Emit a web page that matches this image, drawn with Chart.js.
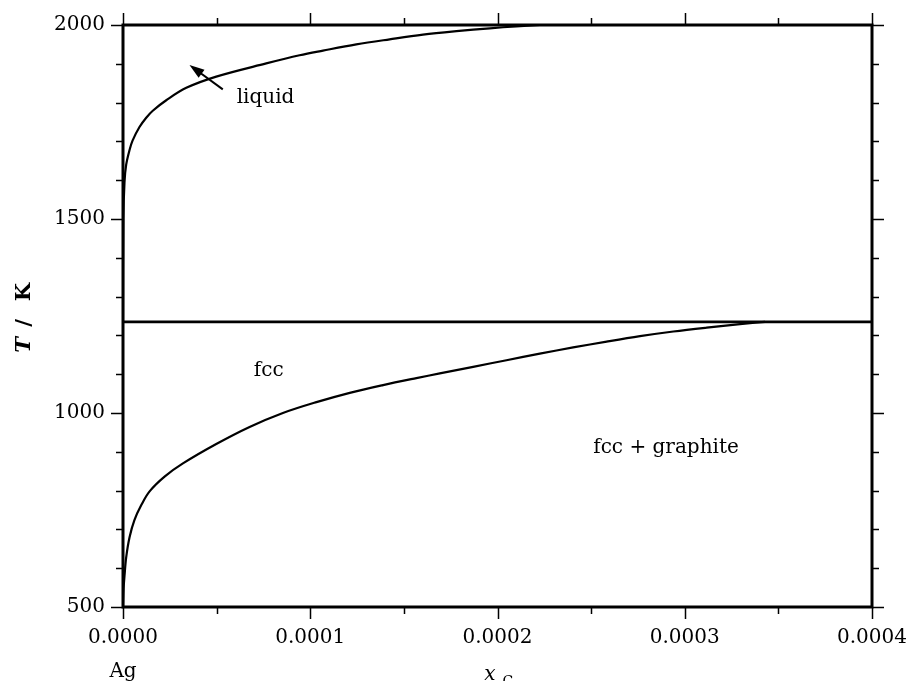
<!DOCTYPE html>
<html>
<head>
<meta charset="utf-8">
<script src="https://cdn.jsdelivr.net/npm/chart.js@4.4.0/dist/chart.umd.min.js"></script>
<style>
  html, body { margin: 0; padding: 0; background: #fff; }
  #wrap { width: 910px; height: 681px; }
</style>
</head>
<body>
<div id="wrap"><canvas id="chart" width="910" height="681"></canvas></div>
<script>
// mole fraction of C (x_C) and temperature (K)
const liquidX = [0, 0.0000002, 0.0000008, 0.0000017, 0.0000035, 0.0000051, 0.0000088, 0.0000124, 0.0000159,
  0.0000231, 0.0000338, 0.0000498, 0.0000765, 0.0000943, 0.0001068, 0.0001246, 0.0001424, 0.0001602,
  0.0001781, 0.0001959, 0.00021, 0.0002226];
const liquidT = [1235, 1500, 1595, 1640, 1678, 1702, 1737, 1761, 1779,
  1806, 1838, 1867, 1901, 1922, 1934, 1950, 1963, 1975,
  1984, 1991.5, 1996.5, 2000];

const fccX = [0, 0.0000003, 0.0000008, 0.0000017, 0.0000035, 0.0000061, 0.0000097, 0.0000142, 0.0000222,
  0.000032, 0.0000498, 0.0000676, 0.0000854, 0.0001033, 0.0001211, 0.0001389, 0.0001567, 0.0001692,
  0.000187, 0.0002048, 0.0002226, 0.0002404, 0.0002583, 0.0002761, 0.0002939, 0.0003117, 0.0003295, 0.0003429];
const fccT = [500, 548, 580, 628, 680, 724, 762, 798, 836,
  870, 920, 964, 1000, 1028, 1052, 1072, 1090, 1102,
  1119, 1136, 1153, 1169, 1184, 1198, 1210, 1220, 1229, 1235];

// Ag melting point, drawn across the whole range
const meltX = [0, 0.0004];
const meltT = [1235, 1235];

const xMin = 0, xMax = 0.0004, xStep = 0.00005;
const yMin = 500, yMax = 2000, yStep = 100;

const FONT = "'DejaVu Serif', serif";

const toPts = (xs, ys) => xs.map((x, i) => ({ x: x, y: ys[i] }));

// frame, tick marks on all 4 sides, labels and titles
const decor = {
  id: 'decor',
  afterDraw(chart) {
    const ctx = chart.ctx;
    const a = chart.chartArea;
    const xs = chart.scales.x, ys = chart.scales.y;
    ctx.save();
    ctx.strokeStyle = '#000';

    // ticks
    ctx.lineWidth = 1.5;
    ctx.beginPath();
    xs.ticks.forEach(t => {
      const px = Math.round(xs.getPixelForValue(t.value)) + 0.5;
      const major = Math.round(t.value / xStep) % 2 === 0;
      const len = major ? 12 : 7;
      ctx.moveTo(px, a.bottom); ctx.lineTo(px, a.bottom + len);
      ctx.moveTo(px, a.top); ctx.lineTo(px, a.top - len);
    });
    ys.ticks.forEach(t => {
      const py = Math.round(ys.getPixelForValue(t.value)) + 0.5;
      const major = Math.round(t.value) % 500 === 0;
      const len = major ? 12 : 7;
      ctx.moveTo(a.left, py); ctx.lineTo(a.left - len, py);
      ctx.moveTo(a.right, py); ctx.lineTo(a.right + len, py);
    });
    ctx.stroke();

    // frame
    ctx.lineWidth = 3;
    ctx.strokeRect(a.left, a.top, a.right - a.left, a.bottom - a.top);

    ctx.fillStyle = '#000';

    // arrow pointing at the liquidus
    const tx = xs.getPixelForValue(0.0000533), ty = ys.getPixelForValue(1834);
    const hx = xs.getPixelForValue(0.0000355), hy = ys.getPixelForValue(1897);
    const ang = Math.atan2(hy - ty, hx - tx);
    ctx.lineWidth = 2;
    ctx.beginPath();
    ctx.moveTo(tx, ty);
    ctx.lineTo(hx - 8 * Math.cos(ang), hy - 8 * Math.sin(ang));
    ctx.stroke();
    ctx.beginPath();
    ctx.moveTo(hx, hy);
    ctx.lineTo(hx - 15 * Math.cos(ang) + 5 * Math.sin(ang), hy - 15 * Math.sin(ang) - 5 * Math.cos(ang));
    ctx.lineTo(hx - 15 * Math.cos(ang) - 5 * Math.sin(ang), hy - 15 * Math.sin(ang) + 5 * Math.cos(ang));
    ctx.closePath();
    ctx.fill();

    // region labels
    ctx.font = '20px ' + FONT;
    ctx.textBaseline = 'alphabetic';
    ctx.textAlign = 'left';
    ctx.fillText('liquid', xs.getPixelForValue(0.0000607), ys.getPixelForValue(1799));
    ctx.textAlign = 'center';
    ctx.fillText('fcc', xs.getPixelForValue(0.0000778), ys.getPixelForValue(1095));
    ctx.fillText('fcc + graphite', xs.getPixelForValue(0.00029), ys.getPixelForValue(897));

    // Ag under the origin
    ctx.fillText('Ag', xs.getPixelForValue(0), 677);

    // x title: x_C
    const cx = (a.left + a.right) / 2;
    ctx.font = 'italic 20px ' + FONT;
    ctx.textAlign = 'right';
    ctx.fillText('x', cx - 2, 680);
    ctx.font = '14px ' + FONT;
    ctx.textAlign = 'left';
    ctx.fillText('C', cx + 5, 686);

    // y title: T / K
    ctx.translate(30, (a.top + a.bottom) / 2);
    ctx.rotate(-Math.PI / 2);
    ctx.textAlign = 'center';
    ctx.font = 'bold italic 21px ' + FONT;
    ctx.fillText('T', -29, 0);
    ctx.font = 'bold 21px ' + FONT;
    ctx.fillText('/', -7, 0);
    ctx.fillText('K', 24, 0);
    ctx.restore();
  }
};

const lineStyle = {
  showLine: true,
  pointRadius: 0,
  borderColor: '#000',
  backgroundColor: '#000',
  fill: false
};

new Chart(document.getElementById('chart'), {
  type: 'scatter',
  data: {
    datasets: [
      Object.assign({ label: 'liquid', data: toPts(liquidX, liquidT), borderWidth: 2.2, tension: 0.35 }, lineStyle),
      Object.assign({ label: 'fcc', data: toPts(fccX, fccT), borderWidth: 2.2, tension: 0.35 }, lineStyle),
      Object.assign({ label: 'Tm', data: toPts(meltX, meltT), borderWidth: 2.8, tension: 0 }, lineStyle)
    ]
  },
  options: {
    responsive: false,
    animation: false,
    layout: { padding: { top: 25, right: 38, left: 0, bottom: 0 } },
    plugins: {
      legend: { display: false },
      tooltip: { enabled: false }
    },
    scales: {
      x: {
        type: 'linear',
        min: xMin,
        max: xMax,
        grid: { display: false, drawTicks: false },
        border: { display: false },
        afterFit: s => { s.height = 74; s.paddingLeft = 0; s.paddingRight = 0; },
        ticks: {
          stepSize: xStep,
          autoSkip: false,
          maxRotation: 0,
          padding: 19,
          color: '#000',
          font: { family: FONT, size: 20 },
          callback: v => (Math.round(v / xStep) % 2 === 0 ? v.toFixed(4) : '')
        }
      },
      y: {
        type: 'linear',
        min: yMin,
        max: yMax,
        grid: { display: false, drawTicks: false },
        border: { display: false },
        afterFit: s => { s.width = 123; s.paddingTop = 0; s.paddingBottom = 0; },
        ticks: {
          stepSize: yStep,
          autoSkip: false,
          padding: 18,
          color: '#000',
          font: { family: FONT, size: 20 },
          callback: v => (Math.round(v) % 500 === 0 ? String(v) : '')
        }
      }
    }
  },
  plugins: [decor]
});
</script>
</body>
</html>
